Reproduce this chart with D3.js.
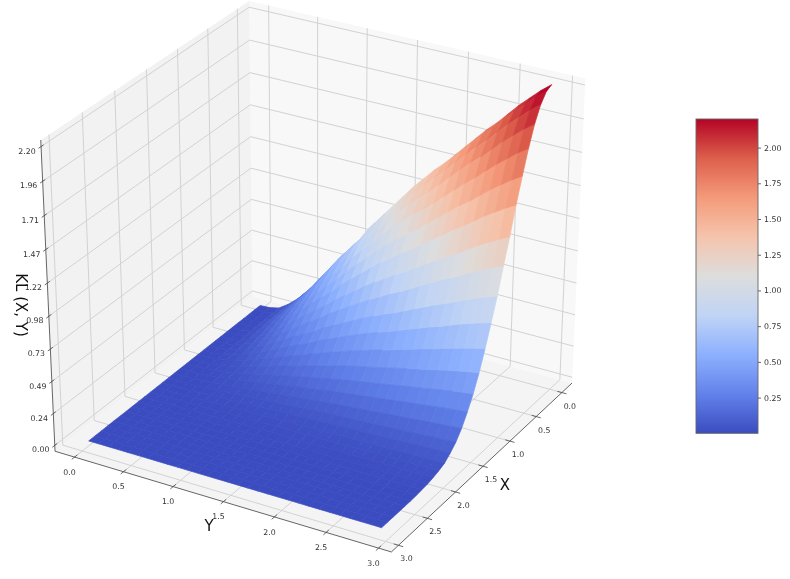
<!DOCTYPE html>
<html><head><meta charset="utf-8">
<script src="https://cdnjs.cloudflare.com/ajax/libs/d3/7.8.5/d3.min.js"></script>
<style>html,body{margin:0;padding:0;background:#fff}svg{display:block;filter:blur(0.4px)}text{font-family:"DejaVu Sans",sans-serif}</style>
</head><body><svg id="c" width="790" height="579"></svg>
<script>
// ---- data ----
const xValues=[0.01,0.11,0.21,0.31,0.41,0.51,0.61,0.71,0.81,0.91,1.01,1.11,1.21,1.31,1.41,1.51,1.61,1.71,1.81,1.91,2.01,2.11,2.21,2.31,2.41,2.51,2.61,2.71,2.81,2.91];
const yValues=[0.01,0.11,0.21,0.31,0.41,0.51,0.61,0.71,0.81,0.91,1.01,1.11,1.21,1.31,1.41,1.51,1.61,1.71,1.81,1.91,2.01,2.11,2.21,2.31,2.41,2.51,2.61,2.71,2.81,2.91];
// KL values: one row per X value, one column per Y value
const klGrid=[
[0,.003,.02,.07,.135,.215,.30,.40,.50,.60,.69,.78,.89,.98,1.07,1.16,1.25,1.33,1.41,1.48,1.56,1.64,1.72,1.80,1.87,1.95,2.03,2.10,2.17,2.23],
[0,.003,.02,.069,.134,.213,.297,.396,.496,.595,.684,.773,.882,.971,1.06,1.15,1.239,1.318,1.397,1.467,1.546,1.625,1.705,1.784,1.853,1.932,2.012,2.081,2.15,2.21],
[0,.003,.019,.067,.13,.207,.289,.385,.481,.577,.664,.75,.856,.943,1.029,1.116,1.203,1.279,1.356,1.424,1.501,1.578,1.655,1.732,1.799,1.876,1.953,2.02,2.088,2.145],
[0,.003,.018,.064,.124,.197,.275,.366,.458,.549,.631,.714,.814,.897,.979,1.061,1.144,1.217,1.29,1.354,1.427,1.501,1.574,1.647,1.711,1.784,1.857,1.922,1.986,2.04],
[0,.003,.017,.06,.115,.183,.255,.34,.425,.51,.587,.663,.757,.833,.91,.986,1.063,1.131,1.199,1.258,1.326,1.394,1.462,1.53,1.59,1.658,1.726,1.785,1.845,1.896],
[0,.002,.016,.054,.105,.167,.233,.31,.388,.465,.535,.605,.69,.76,.829,.899,.969,1.031,1.093,1.147,1.209,1.271,1.333,1.395,1.449,1.511,1.573,1.628,1.682,1.728],
[0,.002,.014,.049,.094,.149,.209,.278,.348,.417,.48,.542,.619,.681,.744,.806,.869,.924,.98,1.029,1.084,1.14,1.195,1.251,1.3,1.355,1.411,1.46,1.508,1.55],
[0,.002,.012,.042,.082,.13,.182,.242,.303,.363,.417,.472,.538,.593,.647,.702,.756,.805,.853,.895,.944,.992,1.041,1.089,1.131,1.18,1.228,1.271,1.313,1.349],
[0,.002,.011,.037,.071,.113,.158,.21,.263,.315,.362,.41,.467,.515,.562,.609,.656,.698,.74,.777,.819,.861,.903,.945,.982,1.024,1.066,1.103,1.139,1.171],
[0,.001,.009,.031,.059,.095,.132,.176,.22,.264,.304,.343,.392,.431,.471,.51,.55,.585,.62,.651,.686,.722,.757,.792,.823,.858,.893,.924,.955,.981],
[0,.001,.007,.026,.05,.079,.11,.147,.184,.22,.253,.286,.327,.36,.393,.426,.459,.488,.517,.543,.573,.602,.631,.661,.686,.716,.745,.771,.796,.818],
[0,.001,.006,.021,.04,.063,.089,.118,.148,.177,.204,.23,.263,.289,.316,.342,.369,.392,.416,.437,.46,.484,.507,.531,.552,.575,.599,.62,.64,.658],
[0,.001,.005,.016,.031,.049,.069,.092,.115,.138,.159,.179,.205,.225,.246,.267,.288,.306,.324,.34,.359,.377,.396,.414,.43,.449,.467,.483,.499,.513],
[0,.001,.004,.012,.024,.038,.053,.07,.088,.105,.121,.137,.156,.172,.187,.203,.219,.233,.247,.259,.273,.287,.301,.315,.327,.341,.355,.368,.38,.39],
[0,0,.003,.009,.018,.028,.039,.052,.065,.078,.09,.101,.116,.127,.139,.151,.163,.173,.183,.192,.203,.213,.224,.234,.243,.254,.264,.273,.282,.29],
[0,0,.002,.006,.012,.019,.027,.036,.045,.054,.062,.07,.08,.088,.096,.104,.113,.12,.127,.133,.14,.148,.155,.162,.168,.176,.183,.189,.195,.201],
[0,0,.001,.004,.008,.013,.018,.024,.03,.036,.041,.047,.053,.059,.064,.07,.075,.08,.085,.089,.094,.098,.103,.108,.112,.117,.122,.126,.13,.134],
[0,0,.001,.003,.005,.009,.012,.016,.02,.024,.028,.031,.036,.039,.043,.046,.05,.053,.056,.059,.062,.066,.069,.072,.075,.078,.081,.084,.087,.089],
[0,0,0,.002,.003,.005,.007,.009,.012,.014,.016,.018,.02,.023,.025,.027,.029,.031,.032,.034,.036,.038,.04,.041,.043,.045,.047,.048,.05,.051],
[0,0,0,.001,.002,.003,.005,.006,.008,.009,.01,.012,.013,.015,.016,.017,.019,.02,.021,.022,.023,.025,.026,.027,.028,.029,.03,.032,.033,.033],
[0,0,0,.001,.001,.002,.003,.004,.005,.005,.006,.007,.008,.009,.01,.01,.011,.012,.013,.013,.014,.015,.015,.016,.017,.018,.018,.019,.02,.02],
[0,0,0,0,.001,.001,.002,.002,.003,.003,.003,.004,.004,.005,.005,.006,.006,.007,.007,.007,.008,.008,.009,.009,.009,.01,.01,.011,.011,.011],
[0,0,0,0,0,.001,.001,.001,.002,.002,.002,.002,.003,.003,.003,.003,.004,.004,.004,.004,.005,.005,.005,.005,.006,.006,.006,.006,.007,.007],
[0,0,0,0,0,0,0,0,.001,.001,.001,.001,.001,.001,.001,.001,.001,.001,.001,.001,.002,.002,.002,.002,.002,.002,.002,.002,.002,.002],
[0,0,0,0,0,0,0,0,0,0,0,0,0,0,0,0,0,0,0,0,0,0,0,0,0,0,0,0,0,0],
[0,0,0,0,0,0,0,0,0,0,0,0,0,0,0,0,0,0,0,0,0,0,0,0,0,0,0,0,0,0],
[0,0,0,0,0,0,0,0,0,0,0,0,0,0,0,0,0,0,0,0,0,0,0,0,0,0,0,0,0,0],
[0,0,0,0,0,0,0,0,0,0,0,0,0,0,0,0,0,0,0,0,0,0,0,0,0,0,0,0,0,0],
[0,0,0,0,0,0,0,0,0,0,0,0,0,0,0,0,0,0,0,0,0,0,0,0,0,0,0,0,0,0],
[0,0,0,0,0,0,0,0,0,0,0,0,0,0,0,0,0,0,0,0,0,0,0,0,0,0,0,0,0,0]
];
const xyTicks=[0,0.5,1,1.5,2,2.5,3];
const xyTickLabels=["0.0","0.5","1.0","1.5","2.0","2.5","3.0"];
const zTicks=[0,0.2444,0.4889,0.7333,0.9778,1.2222,1.4667,1.7111,1.9556,2.2];
const zTickLabels=["0.00","0.24","0.49","0.73","0.98","1.22","1.47","1.71","1.96","2.20"];
const barTicks=[0.25,0.5,0.75,1,1.25,1.5,1.75,2];
const barTickLabels=["0.25","0.50","0.75","1.00","1.25","1.50","1.75","2.00"];
const coolwarmStops=["#3b4cc0","#6282ea","#8db0fe","#c0d4f5","#dddddd","#f5c4ac","#f49a7a","#dd5f4b","#b40426"];

// ---- scales ----
const zMax=2.2;
const xLim=[-0.135,3.055], yLim=[-0.135,3.055], zLim=[0,zMax];
const pad=l=>(l[1]-l[0])/48;
const dX=pad(xLim), dY=pad(yLim), dZ=pad(zLim);
const cubeX=d3.scaleLinear().domain(xLim).range([-.5,.5]);
const cubeY=d3.scaleLinear().domain(yLim).range([-.5,.5]);
const cubeZ=d3.scaleLinear().domain(zLim).range([-.5,.5]);
const color=d3.scaleLinear().domain(coolwarmStops.map((_,i)=>i/(coolwarmStops.length-1)*zMax)).range(coolwarmStops).interpolate(d3.interpolateRgb).clamp(true);
const screenX=d3.scaleLinear().domain([0,1]).range([317.7,317.7+3727]);
const screenY=d3.scaleLinear().domain([0,1]).range([266.7,266.7-3410]);

// view: elevation 30, azimuth 30, camera distance 10
const rad=Math.PI/180, el=30*rad, az=30*rad, camDist=10;
const n=[Math.cos(el)*Math.cos(az),Math.cos(el)*Math.sin(az),Math.sin(el)];
const u=[-Math.sin(az),Math.cos(az),0];
const v=[n[1]*u[2]-n[2]*u[1],n[2]*u[0]-n[0]*u[2],n[0]*u[1]-n[1]*u[0]];
const dot=(a,b)=>a[0]*b[0]+a[1]*b[1]+a[2]*b[2];
function proj(X,Y,Z){
  const q=[cubeX(X),cubeY(Y),cubeZ(Z)];
  const w=camDist-dot(n,q);
  return {x:screenX(dot(u,q)/w),y:screenY(dot(v,q)/w),w};
}
const P=(X,Y,Z)=>{const p=proj(X,Y,Z);return [p.x,p.y];};
const xa=xLim[0]-dX, xb=xLim[1]+dX, ya=yLim[0]-dY, yb=yLim[1]+dY, za=zLim[0]-dZ, zb=zLim[1]+dZ;

const svg=d3.select("#c");
const line=d3.line();
const panes=[
 {fill:"#f8f8f8",pts:[[xa,ya,za],[xa,yb,za],[xa,yb,zb],[xa,ya,zb]]},
 {fill:"#f2f2f2",pts:[[xa,ya,za],[xb,ya,za],[xb,ya,zb],[xa,ya,zb]]},
 {fill:"#f4f4f4",pts:[[xa,ya,za],[xb,ya,za],[xb,yb,za],[xa,yb,za]]}
];
svg.append("g").selectAll("polygon").data(panes).join("polygon")
 .attr("fill",d=>d.fill).attr("points",d=>d.pts.map(p=>P(...p).join(",")).join(" "));
const grid=[];
xyTicks.forEach(t=>{grid.push([[t,yb,za],[t,ya,za],[t,ya,zb]]);grid.push([[xb,t,za],[xa,t,za],[xa,t,zb]]);});
zTicks.forEach(t=>grid.push([[xb,ya,t],[xa,ya,t],[xa,yb,t]]));
svg.append("g").selectAll("path").data(grid).join("path")
 .attr("fill","none").attr("stroke","#d2d2d2").attr("stroke-width",1)
 .attr("d",d=>line(d.map(p=>P(...p))));
const axes=[[[xb,ya,zb],[xb,ya,za],[xb,yb,za],[xa,yb,za]]];
svg.append("g").selectAll("path").data(axes).join("path")
 .attr("fill","none").attr("stroke","#555").attr("stroke-width",0.9)
 .attr("d",d=>line(d.map(p=>P(...p))));
const tk=(xLim[1]-xLim[0])*0.014, tz=(xLim[1]-xLim[0])*0.012;
const tickLines=[];
xyTicks.forEach(t=>{tickLines.push([[t,yb-tk,za],[t,yb+tk,za]]);tickLines.push([[xb-tk,t,za],[xb+tk,t,za]]);});
zTicks.forEach(t=>tickLines.push([[xb+tz,ya,t],[xb-tz,ya,t]]));
svg.append("g").selectAll("path").data(tickLines).join("path")
 .attr("fill","none").attr("stroke","#444").attr("stroke-width",0.8)
 .attr("d",d=>line(d.map(p=>P(...p))));
const lab=(g,data,fn,labels,dx,dy)=>g.selectAll("text").data(data).join("text")
 .attr("x",d=>fn(d)[0]+dx).attr("y",d=>fn(d)[1]+dy).attr("text-anchor","middle")
 .attr("dominant-baseline","middle").attr("font-size",7.8).attr("fill","#333").text((d,i)=>labels[i]);
lab(svg.append("g"),xyTicks,t=>P(xb,t,za),xyTickLabels,-5,15.5);
lab(svg.append("g"),xyTicks,t=>P(t,yb,za),xyTickLabels,8,14);
lab(svg.append("g"),zTicks,t=>P(xb,ya,t),zTickLabels,-14,5);

// surface: one face per grid cell, coloured by its mean value, far faces first
const faces=[];
for(let i=0;i<xValues.length-1;i++)for(let j=0;j<yValues.length-1;j++){
  const ids=[[i,j],[i+1,j],[i+1,j+1],[i,j+1]];
  const c=ids.map(([a,b])=>proj(xValues[a],yValues[b],klGrid[a][b]));
  faces.push({c,m:d3.mean(ids,([a,b])=>klGrid[a][b]),w:d3.mean(c,p=>p.w)});
}
faces.sort((a,b)=>d3.descending(a.w,b.w));
svg.append("g").selectAll("polygon").data(faces).join("polygon")
 .attr("points",d=>d.c.map(p=>p.x+","+p.y).join(" "))
 .attr("fill",d=>color(d.m)).attr("stroke",d=>color(d.m)).attr("stroke-width",0.7).attr("stroke-linejoin","round");

const title=(t,x,y,r)=>svg.append("text").attr("transform",`translate(${x},${y}) rotate(${r})`)
 .attr("text-anchor","middle").attr("dominant-baseline","middle").attr("font-size",15).attr("fill","#111").text(t);
title("X",505,485,0);
title("Y",209,526,0);
title("KL (X, Y)",20,305,90);

const barY=d3.scaleLinear().domain([0,zMax]).range([433.3,119]);
const barLeft=696, barRight=758;
const defs=svg.append("defs").append("linearGradient").attr("id","cw").attr("x1",0).attr("y1",1).attr("x2",0).attr("y2",0);
defs.selectAll("stop").data(coolwarmStops).join("stop")
 .attr("offset",(d,i)=>i/(coolwarmStops.length-1)).attr("stop-color",d=>d);
svg.append("rect").attr("x",barLeft).attr("y",barY(zMax)).attr("width",barRight-barLeft).attr("height",barY(0)-barY(zMax))
 .attr("fill","url(#cw)").attr("stroke","#666").attr("stroke-width",0.9);
const bar=svg.append("g").attr("transform",`translate(${barRight},0)`)
 .call(d3.axisRight(barY).tickValues(barTicks).tickFormat((d,i)=>barTickLabels[i]).tickSize(3).tickPadding(3));
bar.select(".domain").remove();
bar.selectAll("text").attr("font-family",'"DejaVu Sans",sans-serif').attr("font-size",7.8).attr("fill","#333");
bar.selectAll("line").attr("stroke","#444").attr("stroke-width",0.8);
</script></body></html>
